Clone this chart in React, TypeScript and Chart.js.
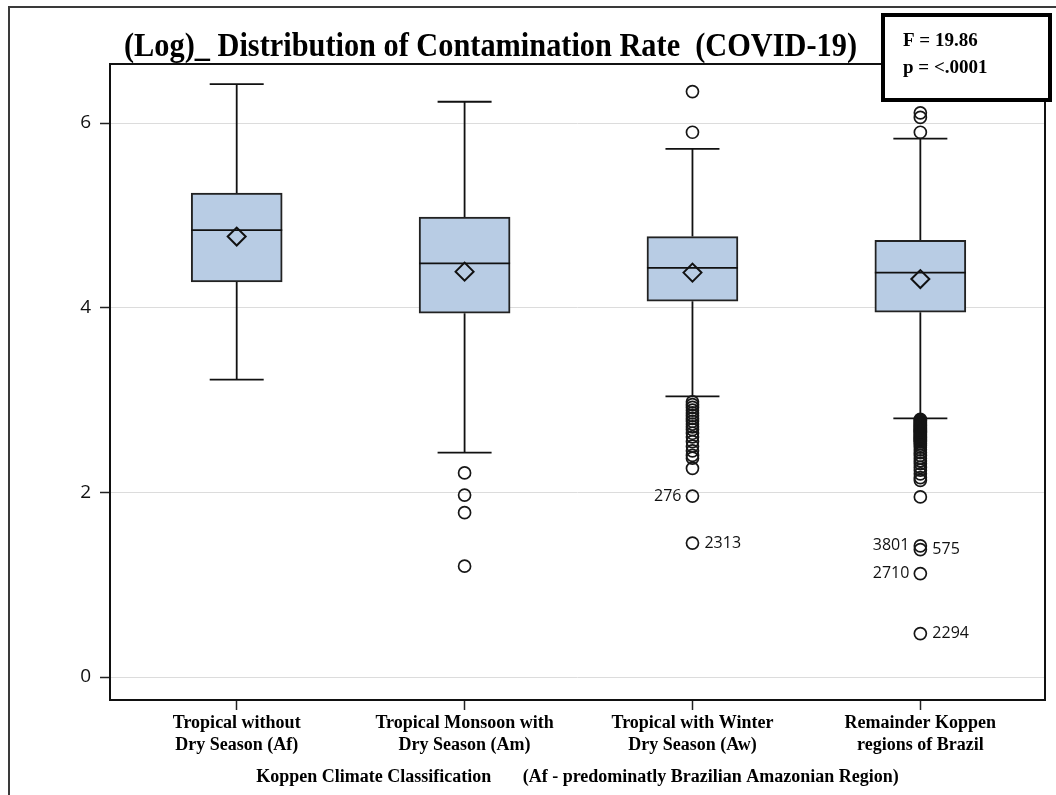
import React, { useEffect, useRef } from "react";
import { Chart, registerables } from "chart.js";

Chart.register(...registerables);

// ---- Data ----
const categories: string[][] = [
  ["Tropical without", "Dry Season (Af)"],
  ["Tropical Monsoon with", "Dry Season (Am)"],
  ["Tropical with Winter", "Dry Season (Aw)"],
  ["Remainder Koppen", "regions of Brazil"],
];
const q1Values = [4.28, 3.94, 4.07, 3.95];
const q3Values = [5.24, 4.98, 4.77, 4.73];
const medianValues = [4.84, 4.48, 4.43, 4.38];
const meanValues = [4.77, 4.39, 4.38, 4.31];
const whiskerLow = [3.22, 2.43, 3.04, 2.8];
const whiskerHigh = [6.42, 6.23, 5.72, 5.83];

const outliersAf: number[] = [];
const outliersAm = [2.21, 1.97, 1.78, 1.2];
const outliersAw = [
  6.34, 5.9, 2.98, 2.95, 2.92, 2.89, 2.86, 2.83, 2.8, 2.77, 2.74, 2.71, 2.68,
  2.64, 2.6, 2.55, 2.5, 2.45, 2.4, 2.37, 2.26, 1.96, 1.45,
];
const outliersRest = [
  6.11, 6.06, 5.9, 2.79, 2.78, 2.77, 2.76, 2.75, 2.74, 2.73, 2.72, 2.71, 2.7,
  2.69, 2.68, 2.67, 2.66, 2.65, 2.64, 2.63, 2.62, 2.61, 2.6, 2.59, 2.58, 2.57,
  2.56, 2.55, 2.53, 2.51, 2.49, 2.46, 2.43, 2.4, 2.37, 2.34, 2.31, 2.27, 2.24,
  2.2, 2.16, 2.13, 1.95, 1.42, 1.38, 1.12, 0.47,
];
const outlierGroups = [outliersAf, outliersAm, outliersAw, outliersRest];

const labelGroups = [2, 2, 3, 3, 3, 3];
const labelValues = [1.96, 1.45, 1.42, 1.38, 1.12, 0.47];
const labelTexts = ["276", "2313", "3801", "575", "2710", "2294"];
const labelSides = ["left", "right", "left", "right", "left", "right"];

const yTicks = [0, 2, 4, 6];
const titleText = "(Log)_ Distribution of Contamination Rate  (COVID-19)";
const statLines = ["F = 19.86", "p = <.0001"];
const xAxisTitle =
  "Koppen Climate Classification       (Af - predominatly Brazilian Amazonian Region)";

const SERIF = "'Liberation Serif', 'Times New Roman', serif";
const SANS = "'Open Sans', 'DejaVu Sans', sans-serif";

const boxPlugin = {
  id: "boxExtras",
  beforeDatasetsDraw(chart: any) {
    const { ctx, scales } = chart;
    const x = scales.x;
    const y = scales.y;
    ctx.save();
    ctx.strokeStyle = "#111";
    ctx.lineWidth = 1.8;
    for (let i = 0; i < q1Values.length; i++) {
      const cx = x.getPixelForValue(i);
      const yLo = y.getPixelForValue(whiskerLow[i]);
      const yHi = y.getPixelForValue(whiskerHigh[i]);
      const yQ1 = y.getPixelForValue(q1Values[i]);
      const yQ3 = y.getPixelForValue(q3Values[i]);
      ctx.beginPath();
      ctx.moveTo(cx, yLo);
      ctx.lineTo(cx, yQ1);
      ctx.moveTo(cx, yQ3);
      ctx.lineTo(cx, yHi);
      ctx.moveTo(cx - 27, yLo);
      ctx.lineTo(cx + 27, yLo);
      ctx.moveTo(cx - 27, yHi);
      ctx.lineTo(cx + 27, yHi);
      ctx.stroke();
    }
    ctx.restore();
  },
  afterDatasetDraw(chart: any, args: any) {
    if (args.index !== 0) return;
    const { ctx, scales } = chart;
    const x = scales.x;
    const y = scales.y;
    ctx.save();
    ctx.strokeStyle = "#111";
    ctx.lineWidth = 1.8;
    for (let i = 0; i < medianValues.length; i++) {
      const cx = x.getPixelForValue(i);
      const ym = y.getPixelForValue(medianValues[i]);
      ctx.beginPath();
      ctx.moveTo(cx - 45.5, ym);
      ctx.lineTo(cx + 45.5, ym);
      ctx.stroke();
    }
    ctx.restore();
  },
  afterDraw(chart: any) {
    const { ctx, scales, chartArea } = chart;
    const x = scales.x;
    const y = scales.y;
    ctx.save();
    // plot frame
    ctx.strokeStyle = "#111";
    ctx.lineWidth = 2;
    ctx.strokeRect(
      chartArea.left,
      chartArea.top,
      chartArea.right - chartArea.left,
      chartArea.bottom - chartArea.top
    );
    // outlier labels
    ctx.fillStyle = "#111";
    ctx.font = `16px ${SANS}`;
    ctx.textBaseline = "middle";
    for (let i = 0; i < labelTexts.length; i++) {
      const px = x.getPixelForValue(labelGroups[i]);
      const py = y.getPixelForValue(labelValues[i]);
      if (labelSides[i] === "left") {
        ctx.textAlign = "right";
        ctx.fillText(labelTexts[i], px - 11, py);
      } else {
        ctx.textAlign = "left";
        ctx.fillText(labelTexts[i], px + 12, py);
      }
    }
    // outer frame
    ctx.strokeStyle = "#3a3a3a";
    ctx.lineWidth = 2;
    ctx.beginPath();
    ctx.moveTo(9, 800);
    ctx.lineTo(9, 7);
    ctx.lineTo(1056, 7);
    ctx.stroke();
    // title
    ctx.fillStyle = "#000";
    ctx.font = `bold 33px ${SERIF}`;
    ctx.textAlign = "left";
    ctx.textBaseline = "alphabetic";
    const w = ctx.measureText(titleText).width;
    ctx.save();
    ctx.translate(124, 56);
    ctx.scale(733 / w, 1);
    ctx.fillText(titleText, 0, 0);
    ctx.restore();
    // stats box
    ctx.fillStyle = "#fff";
    ctx.fillRect(883, 15, 167, 85);
    ctx.strokeStyle = "#000";
    ctx.lineWidth = 4;
    ctx.strokeRect(883, 15, 167, 85);
    ctx.fillStyle = "#000";
    ctx.font = `bold 19px ${SERIF}`;
    ctx.fillText(statLines[0], 903, 46);
    ctx.fillText(statLines[1], 903, 73);
    ctx.restore();
  },
};

export default function App() {
  const canvasRef = useRef<HTMLCanvasElement | null>(null);

  useEffect(() => {
    const canvas = canvasRef.current;
    if (!canvas) return;

    const outlierPoints: { x: number; y: number }[] = [];
    outlierGroups.forEach((g, i) => g.forEach((v) => outlierPoints.push({ x: i, y: v })));

    const chart = new Chart(canvas, {
      type: "bar",
      data: {
        datasets: [
          {
            type: "bar",
            label: "IQR",
            data: q1Values.map((v, i) => ({ x: i, y: [v, q3Values[i]] })) as any,
            backgroundColor: "#b8cce4",
            borderColor: "#222",
            borderWidth: 2,
            borderSkipped: false,
            barThickness: 91,
            order: 3,
          } as any,
          {
            type: "scatter",
            label: "Mean",
            data: meanValues.map((v, i) => ({ x: i, y: v })),
            pointStyle: "rectRot",
            pointRadius: 9,
            backgroundColor: "rgba(0,0,0,0)",
            borderColor: "#111",
            borderWidth: 2,
            order: 1,
          } as any,
          {
            type: "scatter",
            label: "Outliers",
            data: outlierPoints,
            pointStyle: "circle",
            pointRadius: 6,
            backgroundColor: "rgba(0,0,0,0)",
            borderColor: "#161616",
            borderWidth: 1.7,
            order: 2,
          } as any,
        ],
      },
      options: {
        responsive: false,
        animation: false,
        events: [],
        layout: { padding: { left: 0, top: 64, right: 8, bottom: 0 } },
        plugins: {
          legend: { display: false },
          tooltip: { enabled: false },
          title: { display: false },
        },
        scales: {
          x: {
            type: "linear",
            offset: false,
            min: -0.556,
            max: 3.547,
            afterBuildTicks: (scale: any) => {
              scale.ticks = categories.map((_, i) => ({ value: i }));
            },
            afterFit: (scale: any) => {
              scale.height = 95;
            },
            ticks: {
              autoSkip: false,
              maxRotation: 0,
              padding: 2,
              color: "#000",
              font: { family: SERIF, size: 18, weight: "bold", lineHeight: 1.22 },
              callback: (v: any) => categories[Number(v)] ?? "",
            },
            grid: {
              offset: false,
              drawOnChartArea: false,
              drawTicks: true,
              tickLength: 10,
              tickColor: "#222",
              tickWidth: 1.5,
            },
            border: { display: false },
            title: {
              display: true,
              text: xAxisTitle,
              color: "#000",
              font: { family: SERIF, size: 18, weight: "bold" },
              padding: { top: 0, bottom: 7 },
            },
            afterUpdate: (scale: any) => {
              // shift axis-title centre slightly right, as in the reference
              scale.left += 0;
            },
          },
          y: {
            type: "linear",
            min: -0.249,
            max: 6.639,
            afterBuildTicks: (scale: any) => {
              scale.ticks = yTicks.map((v) => ({ value: v }));
            },
            afterFit: (scale: any) => {
              scale.width = 110;
            },
            ticks: {
              padding: 9,
              color: "#111",
              font: { family: SANS, size: 19 },
            },
            grid: {
              color: "#dcdcdc",
              lineWidth: 1,
              tickLength: 10,
              tickColor: "#222",
              tickWidth: 1.5,
            },
            border: { display: false },
          },
        },
      } as any,
      plugins: [boxPlugin],
    });

    return () => chart.destroy();
  }, []);

  return (
    <div
      style={{
        position: "absolute",
        left: 0,
        top: 0,
        width: 1056,
        height: 795,
        background: "#fff",
      }}
    >
      <canvas ref={canvasRef} width={1056} height={795} style={{ display: "block" }} />
    </div>
  );
}
